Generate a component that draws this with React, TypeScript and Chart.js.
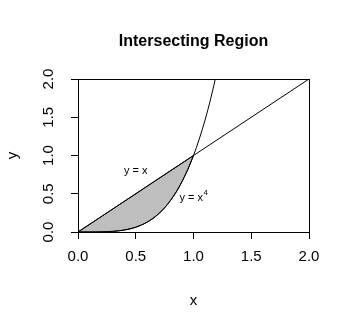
import React, { useEffect, useRef } from "react";
import { Chart, registerables } from "chart.js";

Chart.register(...registerables);

const FONT = '"Liberation Sans", Arial, sans-serif';

// y = x line
const lineX = [0, 2];
const lineY = [0, 2];

// y = x^4 curve
const curveX = [0, 0.05, 0.1, 0.15, 0.2, 0.25, 0.3, 0.35, 0.4, 0.45, 0.5, 0.55, 0.6, 0.65, 0.7, 0.75, 0.8, 0.85, 0.9, 0.95, 1.0, 1.05, 1.1, 1.15, 1.2];
const curveY = [0, 0.00000625, 0.0001, 0.00050625, 0.0016, 0.00390625, 0.0081, 0.01500625, 0.0256, 0.04100625, 0.0625, 0.09150625, 0.1296, 0.17850625, 0.2401, 0.31640625, 0.4096, 0.52200625, 0.6561, 0.81450625, 1, 1.21550625, 1.4641, 1.74900625, 2.0736];

// shaded intersecting region (along y = x^4 from 0 to 1, back along y = x)
const regionX = [0, 0.05, 0.1, 0.15, 0.2, 0.25, 0.3, 0.35, 0.4, 0.45, 0.5, 0.55, 0.6, 0.65, 0.7, 0.75, 0.8, 0.85, 0.9, 0.95, 1.0, 0];
const regionY = [0, 0.00000625, 0.0001, 0.00050625, 0.0016, 0.00390625, 0.0081, 0.01500625, 0.0256, 0.04100625, 0.0625, 0.09150625, 0.1296, 0.17850625, 0.2401, 0.31640625, 0.4096, 0.52200625, 0.6561, 0.81450625, 1, 0];

// tick values
const xTicks = [0, 0.5, 1.0, 1.5, 2.0];
const yTicks = [0, 0.5, 1.0, 1.5, 2.0];

// text annotations
const labelText = ["y = x", "y = x"];
const labelSup = ["", "4"];
const labelX = [0.5, 1.0];
const labelY = [0.8, 0.45];

const TITLE = "Intersecting Region";

const pts = (xs: number[], ys: number[]) => xs.map((x, i) => ({ x, y: ys[i] }));

const decorPlugin = {
  id: "decor",
  afterDraw(chart: any) {
    const { ctx, chartArea } = chart;
    const { left, top, right, bottom } = chartArea;
    ctx.save();
    // box
    ctx.strokeStyle = "#000";
    ctx.lineWidth = 1;
    ctx.strokeRect(left + 0.5, top + 0.5, right - left, bottom - top);
    // title
    ctx.fillStyle = "#000";
    ctx.font = `bold 16px ${FONT}`;
    ctx.textAlign = "center";
    ctx.textBaseline = "alphabetic";
    ctx.fillText(TITLE, (left + right) / 2, 46);
    // annotations
    const xs = chart.scales.x;
    const ys = chart.scales.y;
    for (let i = 0; i < labelText.length; i++) {
      const px = xs.getPixelForValue(labelX[i]);
      const py = ys.getPixelForValue(labelY[i]);
      ctx.font = `11px ${FONT}`;
      const w1 = ctx.measureText(labelText[i]).width;
      ctx.font = `8px ${FONT}`;
      const w2 = labelSup[i] ? ctx.measureText(labelSup[i]).width : 0;
      const start = px - (w1 + w2) / 2;
      ctx.textAlign = "left";
      ctx.textBaseline = "alphabetic";
      ctx.font = `11px ${FONT}`;
      ctx.fillText(labelText[i], start, py + 3.5);
      if (labelSup[i]) {
        ctx.font = `8px ${FONT}`;
        ctx.fillText(labelSup[i], start + w1 + 0.5, py - 2.5);
      }
    }
    ctx.restore();
  },
};

export default function App() {
  const ref = useRef<HTMLCanvasElement | null>(null);
  useEffect(() => {
    document.body.style.margin = "0";
    const canvas = ref.current;
    if (!canvas) return;
    const chart = new Chart(canvas, {
      type: "scatter",
      data: {
        datasets: [
          {
            label: "region",
            data: pts(regionX, regionY),
            showLine: true,
            fill: "shape",
            backgroundColor: "#BEBEBE",
            borderColor: "#000",
            borderWidth: 1,
            pointRadius: 0,
            order: 3,
          },
          {
            label: "y = x",
            data: pts(lineX, lineY),
            showLine: true,
            fill: false,
            borderColor: "#000",
            borderWidth: 1,
            pointRadius: 0,
            order: 1,
          },
          {
            label: "y = x^4",
            data: pts(curveX, curveY),
            showLine: true,
            fill: false,
            borderColor: "#000",
            borderWidth: 1,
            pointRadius: 0,
            cubicInterpolationMode: "monotone",
            order: 1,
          },
        ],
      },
      options: {
        animation: false,
        responsive: false,
        devicePixelRatio: 1,
        layout: { padding: { top: 79, right: 41, bottom: 0, left: 0 } },
        plugins: {
          legend: { display: false },
          tooltip: { enabled: false },
          title: { display: false },
        },
        scales: {
          x: {
            type: "linear",
            min: 0,
            max: 2,
            afterBuildTicks: (s: any) => {
              s.ticks = xTicks.map((v) => ({ value: v }));
            },
            afterFit: (s: any) => {
              s.height = 98;
            },
            ticks: {
              color: "#000",
              font: { family: FONT, size: 15 },
              padding: 9,
              maxRotation: 0,
              minRotation: 0,
              callback: (v: any) => Number(v).toFixed(1),
            },
            grid: { drawOnChartArea: false, drawTicks: true, tickLength: 7, color: "#000", tickColor: "#000" },
            border: { display: true, color: "#000" },
            title: { display: true, text: "x", color: "#000", font: { family: FONT, size: 15 }, padding: { top: 0, bottom: 20 } },
          },
          y: {
            type: "linear",
            min: 0,
            max: 2,
            afterBuildTicks: (s: any) => {
              s.ticks = yTicks.map((v) => ({ value: v }));
            },
            afterFit: (s: any) => {
              s.width = 78;
            },
            ticks: {
              color: "#000",
              font: { family: FONT, size: 15 },
              padding: 12,
              minRotation: 90,
              maxRotation: 90,
              crossAlign: "center",
              callback: (v: any) => Number(v).toFixed(1),
            },
            grid: { drawOnChartArea: false, drawTicks: true, tickLength: 7, color: "#000", tickColor: "#000" },
            border: { display: true, color: "#000" },
            title: { display: true, text: "y", color: "#000", font: { family: FONT, size: 15 }, padding: { top: 4, bottom: 0 } },
          },
        },
      },
      plugins: [decorPlugin],
    } as any);
    return () => chart.destroy();
  }, []);
  return (
    <div style={{ position: "fixed", left: 0, top: 0, width: 350, height: 330, background: "#fff" }}>
      <canvas ref={ref} width={350} height={330} />
    </div>
  );
}
